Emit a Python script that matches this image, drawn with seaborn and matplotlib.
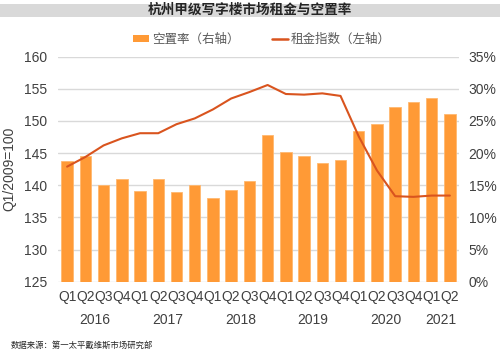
import numpy as np
import pandas as pd
import matplotlib
matplotlib.use("Agg")
import matplotlib.pyplot as plt
import seaborn as sns
from matplotlib.patches import Patch, Rectangle
from matplotlib.lines import Line2D

quarters = ["Q1", "Q2", "Q3", "Q4"] * 5 + ["Q1", "Q2"]
years = ["2016", "2017", "2018", "2019", "2020", "2021"]
vacancy = [18.8, 19.5, 15.1, 15.9, 14.1, 15.9, 13.9, 15.0, 13.0, 14.2, 15.6,
           22.8, 20.1, 19.5, 18.4, 19.0, 23.4, 24.5, 27.2, 27.9, 28.6, 26.1]
rent = [142.9, 144.4, 146.2, 147.3, 148.1, 148.1, 149.5, 150.4, 151.8, 153.5,
        154.5, 155.6, 154.2, 154.1, 154.3, 153.9, 147.6, 142.3, 138.3, 138.2,
        138.4, 138.4]
left_ticks = [125, 130, 135, 140, 145, 150, 155, 160]
right_ticks = [0, 5, 10, 15, 20, 25, 30, 35]

sns.set_theme(style="white")
plt.rcParams['font.family'] = ['Liberation Sans', 'Noto Sans CJK SC']

BAR = "#FF9A36"
LINE = "#D9541E"
TXT = "#404040"

n = len(vacancy)
labels = [f"{i}" for i in range(n)]
df = pd.DataFrame({"idx": labels, "pos": np.arange(n), "vacancy": vacancy, "rent": rent})

fig = plt.figure(figsize=(5.0, 3.54), dpi=100)
ax_bar = fig.add_axes([0.116, 0.2042, 0.802, 0.6356])
ax_line = ax_bar.twinx()

sns.barplot(data=df, x="idx", y="vacancy", ax=ax_bar, color=BAR, width=0.63,
            saturation=1, edgecolor="#FFB870", linewidth=0.6, order=labels)
ax_bar.set_ylim(0, 35)
ax_bar.set_yticks(right_ticks)
ax_bar.set_yticklabels([f"{t}%" for t in right_ticks])
ax_bar.yaxis.tick_right()
ax_bar.yaxis.set_label_position("right")
ax_bar.set_xlim(-0.5, n - 0.5)
ax_bar.set_xticks(np.arange(n))
ax_bar.set_xticklabels(quarters)
ax_bar.set_xlabel("")
ax_bar.set_ylabel("")
ax_bar.grid(axis="y", color="#D9D9D9", linewidth=1)
ax_bar.set_axisbelow(True)
ax_bar.tick_params(axis="both", length=0, labelsize=10, colors=TXT, pad=6)
ax_bar.tick_params(axis="y", pad=7)

sns.lineplot(data=df, x="pos", y="rent", ax=ax_line, color=LINE, linewidth=1.5)
ax_line.set_ylim(125, 160)
ax_line.set_yticks(left_ticks)
ax_line.yaxis.tick_left()
ax_line.yaxis.set_label_position("left")
ax_line.set_ylabel("Q1/2009=100", fontsize=10, color=TXT)
ax_line.yaxis.set_label_coords(-0.105, 0.5)
ax_line.set_xlabel("")
ax_line.tick_params(axis="both", length=0, labelsize=10, colors=TXT, pad=8)
ax_line.grid(False)
ax_line.set_xlim(-0.5, n - 0.5)

for a in (ax_bar, ax_line):
    for s in a.spines.values():
        s.set_visible(False)

# year labels
year_groups = [(0, 3), (4, 7), (8, 11), (12, 15), (16, 19), (20, 21)]
for yr, (a, b) in zip(years, year_groups):
    ax_bar.text((a + b) / 2, -0.17, yr, transform=ax_bar.get_xaxis_transform(),
                ha="center", va="center", fontsize=10, color=TXT)

# title band
fig.patches.append(Rectangle((0, 1 - 17 / 354), 1, 13 / 354, transform=fig.transFigure,
                             facecolor="#D9D9D9", edgecolor="none", zorder=0))
fig.text(0.5, 1 - 10 / 354, "杭州甲级写字楼市场租金与空置率", ha="center", va="center",
         fontsize=9.8, fontweight="bold", color="#262626")

handles = [Patch(facecolor=BAR, edgecolor="none"),
           Line2D([0], [0], color=LINE, linewidth=1.8)]
fig.legend(handles, ["空置率（右轴）", "租金指数（左轴）"], loc="center left",
           bbox_to_anchor=(128 / 500, 1 - 40 / 354), ncol=2, frameon=False, fontsize=9,
           labelcolor="#595959", handlelength=1.3, handleheight=0.5, handletextpad=0.2,
           columnspacing=2.6, borderaxespad=0)

fig.text(0.022, 1 - 346 / 354, "数据来源：第一太平戴维斯市场研究部", ha="left", va="center",
         fontsize=6, color="#262626")

fig.savefig("out.png", dpi=100)
